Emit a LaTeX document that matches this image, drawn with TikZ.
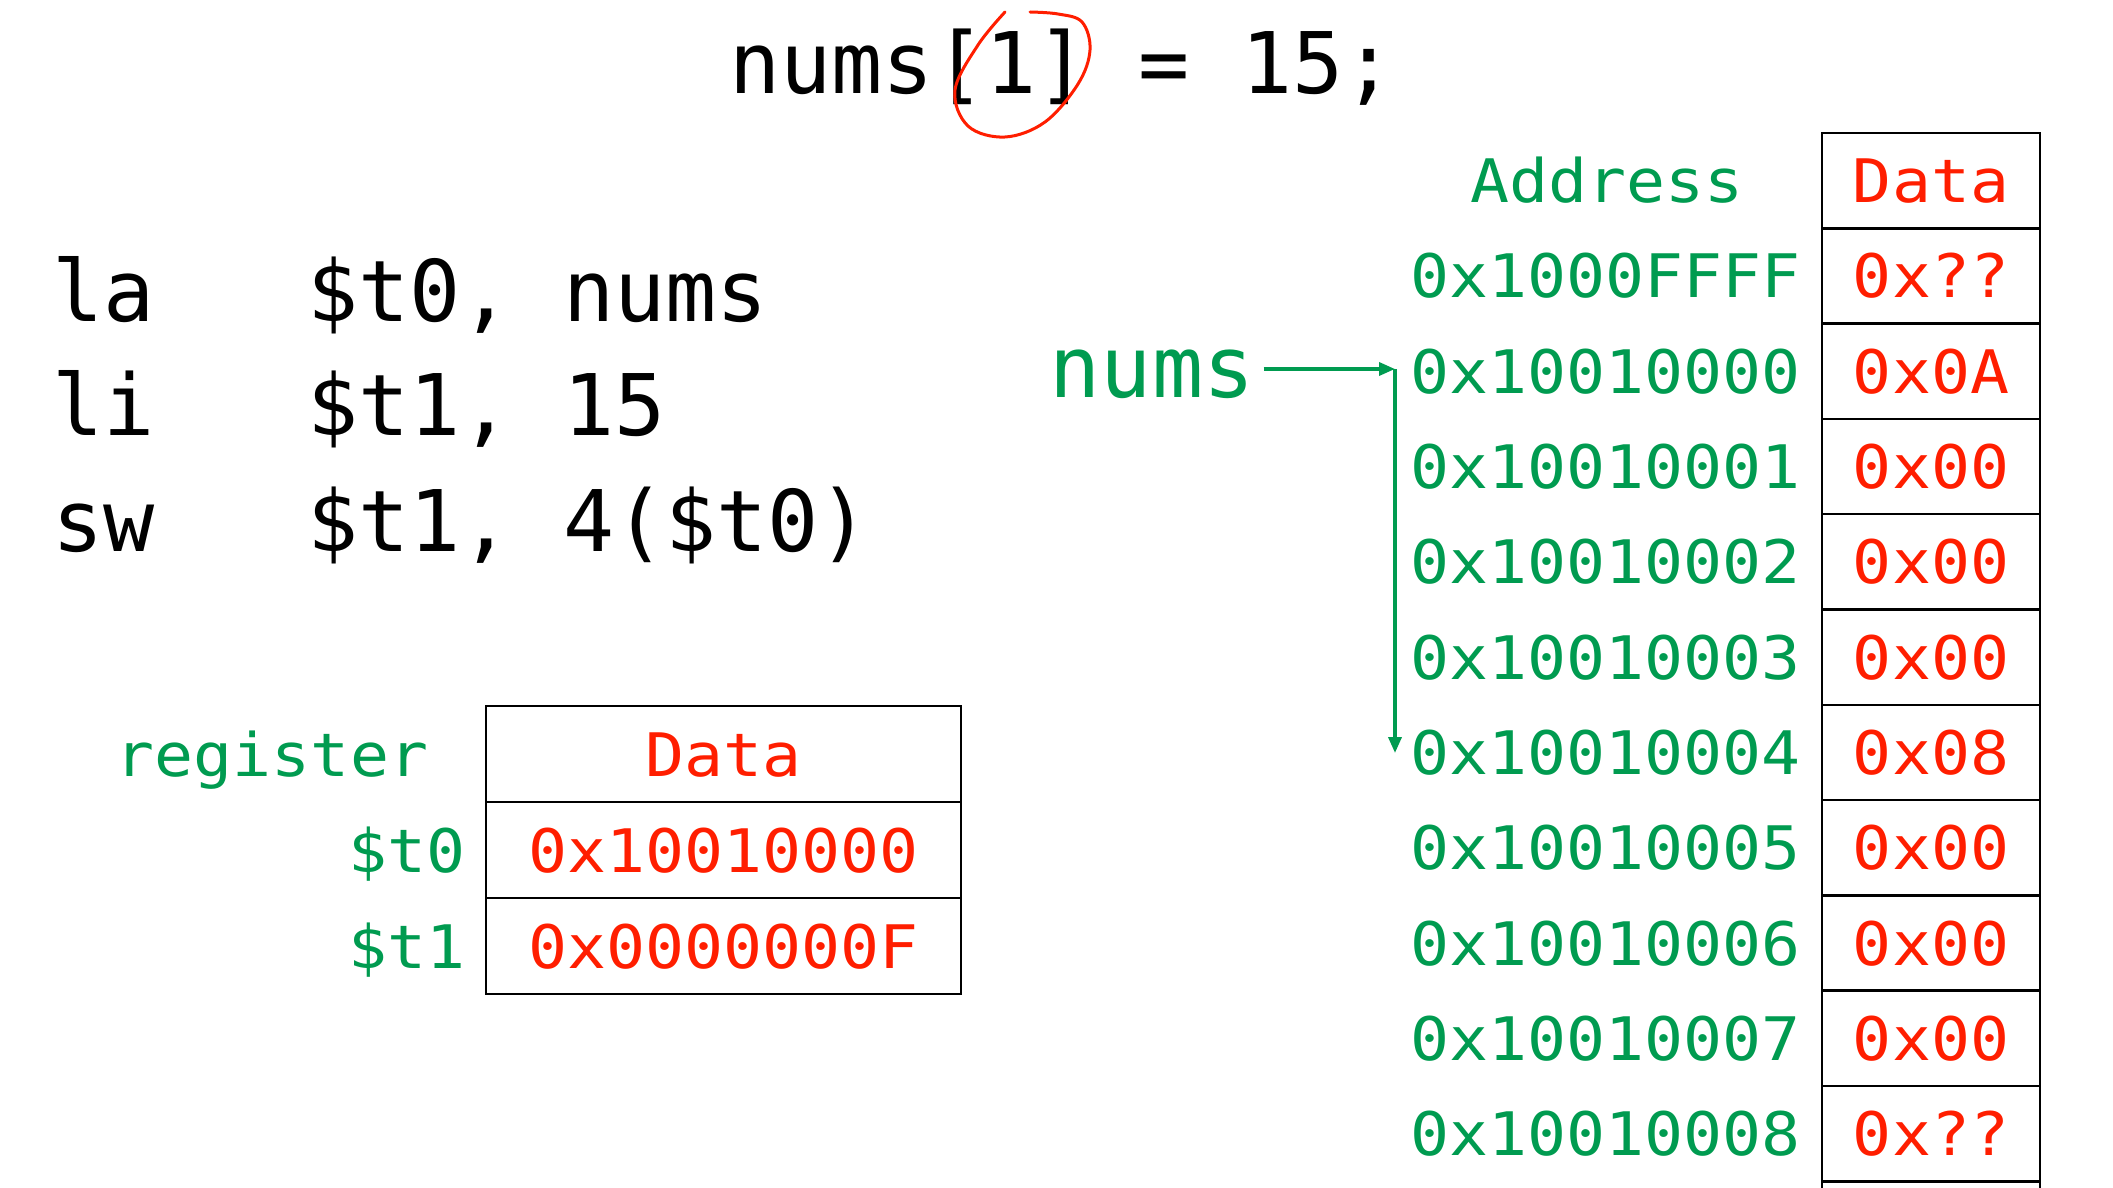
\documentclass[tikz,border=0pt]{standalone}
\usepackage{fontspec}
\usetikzlibrary{arrows.meta}

\newfontfamily\codefont{DejaVu Sans Mono}
\newfontfamily\tablefont[FakeStretch=1.08]{DejaVu Sans Mono}
\definecolor{addrgreen}{RGB}{0,155,80}
\definecolor{datared}{RGB}{255,30,0}

\begin{document}
\begin{tikzpicture}[x=1pt, y=-1pt,
        cell/.style={draw=black, line width=2.5pt, minimum width=218pt, minimum height=95.3pt, text=datared},
        regcell/.style={cell, minimum width=475pt, minimum height=96pt},
        ptr/.style={draw=addrgreen, line width=3.5pt, ->, >={Triangle[length=16pt,width=13pt]}}]
        \useasboundingbox (0,0) rectangle (2113,1188);
        % statement and code
        \begin{scope}[every node/.style={inner sep=0, anchor=base west, font=\codefont\fontsize{85}{100}\selectfont}]
            \node[anchor=base] (Stmt) at (1062,94) {nums[1] = 15;};
            \node (OpLa) at (52,321) {la};
            \node (OpLi) at (52,435) {li};
            \node (OpSw) at (52,551) {sw};
            \node (ArgLa) at (307,321) {\$t0, nums};
            \node (ArgLi) at (307,435) {\$t1, 15};
            \node (ArgSw) at (307,551) {\$t1, 4(\$t0)};
        \end{scope}
        \draw[datared, line width=3pt, line cap=round] plot[smooth, tension=0.6] coordinates {(1005,12) (978,45) (955,90) (968,126) (1005,137) (1045,122) (1078,84) (1090,50) (1082,22) (1058,14) (1030,12)};
        % register table
        \begin{scope}[every node/.style={inner sep=0, text height=44pt, text depth=0pt, font=\tablefont\fontsize{60}{70}\selectfont}]
            \node[text=addrgreen] (RegHead) at (272,754) {register};
            \node[text=addrgreen, anchor=east] (RegT0) at (466,850) {\$t0};
            \node[text=addrgreen, anchor=east] (RegT1) at (466,946) {\$t1};
            \node[regcell] (RegData) at (723.5,754) {Data};
            \node[regcell] (ValT0) at (723.5,850) {0x10010000};
            \node[regcell] (ValT1) at (723.5,946) {0x0000000F};
        \end{scope}
        % memory table
        \begin{scope}[every node/.style={inner sep=0, text height=44pt, text depth=0pt, font=\tablefont\fontsize{60}{70}\selectfont}]
            \node[text=addrgreen] (AddrHead) at (1607,180.6) {Address};
            \node[text=addrgreen, anchor=east] (Addr0) at (1801,275.9) {0x1000FFFF};
            \node[text=addrgreen, anchor=east] (Addr1) at (1801,371.2) {0x10010000};
            \node[text=addrgreen, anchor=east] (Addr2) at (1801,466.5) {0x10010001};
            \node[text=addrgreen, anchor=east] (Addr3) at (1801,561.8) {0x10010002};
            \node[text=addrgreen, anchor=east] (Addr4) at (1801,657.1) {0x10010003};
            \node[text=addrgreen, anchor=east] (Addr5) at (1801,752.4) {0x10010004};
            \node[text=addrgreen, anchor=east] (Addr6) at (1801,847.7) {0x10010005};
            \node[text=addrgreen, anchor=east] (Addr7) at (1801,943.0) {0x10010006};
            \node[text=addrgreen, anchor=east] (Addr8) at (1801,1038.3) {0x10010007};
            \node[text=addrgreen, anchor=east] (Addr9) at (1801,1133.6) {0x10010008};
            \node[cell] (MemHead) at (1931,180.6) {Data};
            \node[cell] (Mem0) at (1931,275.9) {0x??};
            \node[cell] (Mem1) at (1931,371.2) {0x0A};
            \node[cell] (Mem2) at (1931,466.5) {0x00};
            \node[cell] (Mem3) at (1931,561.8) {0x00};
            \node[cell] (Mem4) at (1931,657.1) {0x00};
            \node[cell] (Mem5) at (1931,752.4) {0x08};
            \node[cell] (Mem6) at (1931,847.7) {0x00};
            \node[cell] (Mem7) at (1931,943.0) {0x00};
            \node[cell] (Mem8) at (1931,1038.3) {0x00};
            \node[cell] (Mem9) at (1931,1133.6) {0x??};
            \node[cell] (MemEnd) at (1931,1228.9) {};
        \end{scope}
        % nums pointer
        \node[inner sep=0, inner xsep=9pt, text height=45pt, text depth=0pt, text=addrgreen, font=\codefont\fontsize{85}{100}\selectfont] (NumsLbl) at (1152,375) {nums};
        \coordinate (Bend) at (1395,369);
        \coordinate (Elem1) at (1395,753);
        \path (NumsLbl.east |- Bend) edge [ptr] (Bend);
        \path (Bend) edge [ptr] (Elem1);
    \end{tikzpicture}
\end{document}
